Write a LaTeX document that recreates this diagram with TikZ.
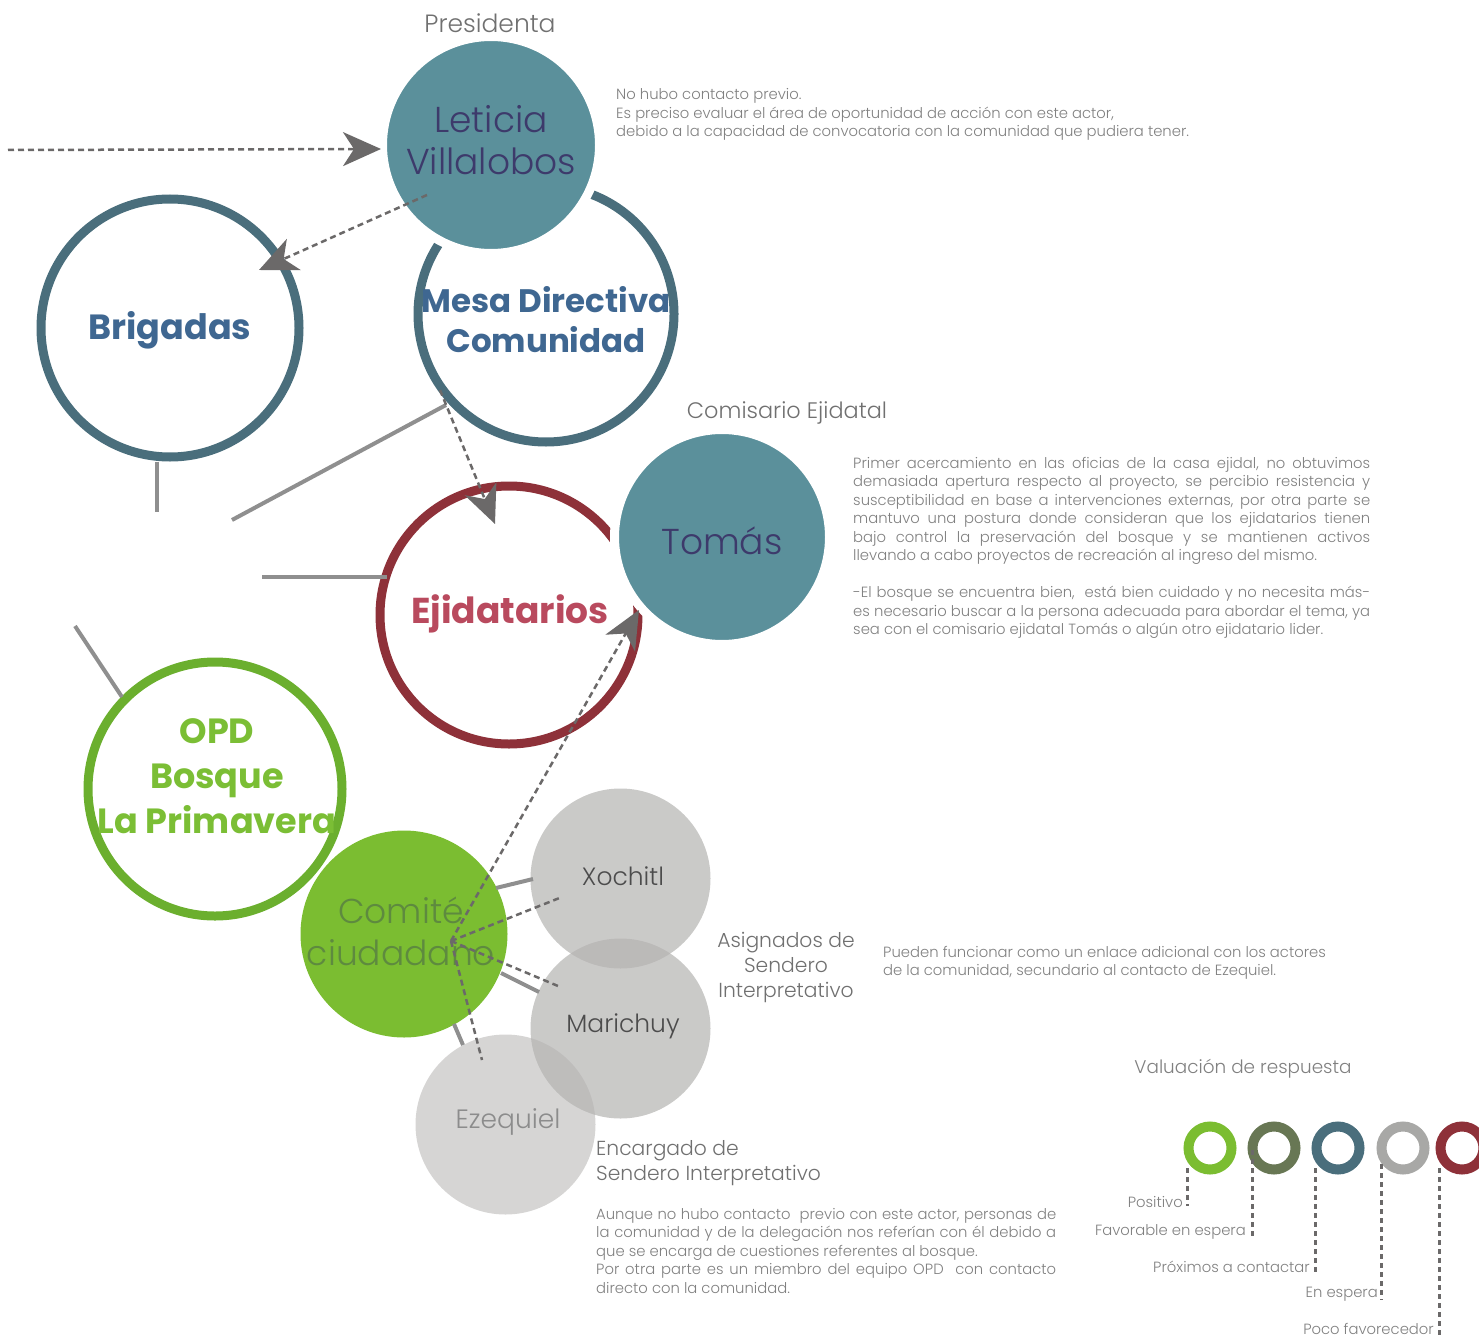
\documentclass[tikz,border=0pt]{standalone}
\usepackage{fontspec}
\setmainfont{Poppins Light}[BoldFont=Poppins Bold]
\usetikzlibrary{arrows.meta}
\definecolor{cTeal}{HTML}{5B909B}
\definecolor{cPurple}{HTML}{3D3A6B}
\definecolor{cRing}{HTML}{4A6E7C}
\definecolor{cBlueTxt}{HTML}{3F6791}
\definecolor{cRed}{HTML}{8E3139}
\definecolor{cRedTxt}{HTML}{B94A5E}
\definecolor{cGreenRing}{HTML}{6BAF2E}
\definecolor{cGreenTxt}{HTML}{7BBE35}
\definecolor{cGreen}{HTML}{7BBD31}
\definecolor{cComTxt}{HTML}{5E8A3F}
\definecolor{cOlive}{HTML}{687754}
\definecolor{cLGray}{HTML}{A8A8A6}
\definecolor{cLine}{HTML}{8F8F8F}
\definecolor{cDash}{HTML}{6B6969}
\definecolor{cTxt}{HTML}{808080}
\definecolor{cLab}{HTML}{707070}
\definecolor{cGrayFill}{HTML}{B4B3B1}
\tikzset{
  ring/.style={circle, draw=#1, line width=9pt, inner sep=0pt},
  disc/.style={circle, fill=#1, draw=white, line width=9pt, inner sep=0pt},
  gdisc/.style={circle, fill=cGrayFill, fill opacity=#1, inner sep=0pt, minimum size=180pt},
  stub/.style={draw=cLine, line width=4pt},
  darrow/.style={draw=cDash, line width=2.5pt, dash pattern=on 6pt off 4pt, -{Stealth[length=38pt,width=34pt,inset=11pt]}},
  dline/.style={draw=cDash, line width=2.5pt, dash pattern=on 6pt off 4pt},
  legring/.style={circle, draw=#1, line width=10pt, minimum size=43pt, inner sep=0pt},
  legline/.style={draw=cDash, line width=3pt, dash pattern=on 5pt off 4pt},
  bigtxt/.style={font=\fontsize{36}{42}\selectfont, align=center, inner sep=0pt},
  boldtxt/.style={font=\fontsize{33}{40}\selectfont\bfseries, align=center, inner sep=0pt},
  nametxt/.style={font=\fontsize{25}{28}\selectfont, inner sep=0pt},
  labtxt/.style={font=\fontsize{22.4}{25}\selectfont, text=cLab, inner sep=0pt},
  desc/.style={font=\fontsize{14.8}{18.5}\selectfont, text=cTxt, inner sep=0pt, anchor=base west},
  legtxt/.style={font=\fontsize{14.8}{18}\selectfont, text=cTxt, inner sep=0pt, anchor=east}
}
\begin{document}
\begin{tikzpicture}[x=1pt,y=-1pt]
\useasboundingbox (0,0) rectangle (1479,1340);
% rings
\node[ring=cRing, minimum size=258pt] (brig) at (170,328) {};
\node[ring=cRing, minimum size=256pt] (mesa) at (546,314) {};
\node[ring=cRed, minimum size=258pt] (ejid) at (509,615) {};
\node[ring=cGreenRing, minimum size=254pt] (opd) at (215,789) {};
% filled discs
\node[disc=cTeal, minimum size=217pt] (leti) at (491,145) {};
\node[disc=cTeal, minimum size=215pt] (tomas) at (722,537) {};
\node[circle, fill=cGreen, inner sep=0pt, minimum size=207pt] (comite) at (404,934) {};
\node[gdisc=0.7] (xoch) at (620.5,878.5) {};
\node[gdisc=0.7] (mari) at (620.5,1028.5) {};
\node[gdisc=0.55] (ezeq) at (505.5,1124.5) {};
% circle texts
\node[bigtxt, text=cPurple] (letiT) at (491,140) {Leticia\\Villalobos};
\node[bigtxt, text=cPurple] (tomasT) at (722,541) {Tomás};
\node[boldtxt, text=cBlueTxt, font=\fontsize{35}{40}\selectfont\bfseries] (brigT) at (170,330) {Brigadas};
\node[boldtxt, text=cBlueTxt, font=\fontsize{32.5}{40}\selectfont\bfseries] (mesaT) at (546,320) {Mesa Directiva\\Comunidad};
\node[boldtxt, text=cRedTxt, font=\fontsize{36}{40}\selectfont\bfseries] (ejidT) at (510,614) {Ejidatarios};
\node[boldtxt, text=cGreenTxt, font=\fontsize{35}{45}\selectfont\bfseries] (opdT) at (217,776) {OPD\\Bosque\\La Primavera};
\node[bigtxt, text=cComTxt, font=\fontsize{34.5}{42}\selectfont] (comiteT) at (401,931) {Comité\\ciudadano};
\node[nametxt, text=black!70] (xochT) at (623,876) {Xochitl};
\node[nametxt, text=black!70] (mariT) at (623,1026) {Marichuy};
\node[nametxt, text=black!45, font=\fontsize{26.5}{28}\selectfont] (ezeqT) at (508,1122) {Ezequiel};
% outside labels
\node[labtxt, font=\fontsize{25}{27}\selectfont] (presT) at (490,23) {Presidenta};
\node[labtxt] (comisT) at (787,413) {Comisario Ejidatal};
\node[labtxt, font=\fontsize{20.3}{25}\selectfont, align=center] (asigT) at (786,967) {Asignados de\\Sendero\\Interpretativo};
\node[labtxt, font=\fontsize{20.3}{25}\selectfont, align=left, anchor=base west] (encT) at (596,1180) {Encargado de\\Sendero Interpretativo};
% descriptions
\node[desc] (d1) at (616,100) {\begin{minipage}[t]{600pt}\raggedright
No hubo contacto previo.\\
Es preciso evaluar el área de oportunidad de acción con este actor,\\
debido a la capacidad de convocatoria con la comunidad que pudiera tener.\end{minipage}};
\node[desc] (d2) at (853,468) {\begin{minipage}[t]{517pt}\raggedright
\makebox[\linewidth][s]{Primer acercamiento en las oficias de la casa ejidal, no obtuvimos}\\
\makebox[\linewidth][s]{demasiada apertura respecto al proyecto, se percibio resistencia y}\\
\makebox[\linewidth][s]{susceptibilidad en base a intervenciones externas, por otra parte se}\\
\makebox[\linewidth][s]{mantuvo una postura donde consideran que los ejidatarios tienen}\\
\makebox[\linewidth][s]{bajo control la preservación del bosque y se mantienen activos}\\
llevando a cabo proyectos de recreación al ingreso del mismo.\\[18.5pt]
\makebox[\linewidth][s]{-El bosque se encuentra bien,\ \ está bien cuidado y no necesita más-}\\
\makebox[\linewidth][s]{es necesario buscar a la persona adecuada para abordar el tema, ya}\\
sea con el comisario ejidatal Tomás o algún otro ejidatario lider.\end{minipage}};
\node[desc] (d3) at (883,957) {\begin{minipage}[t]{500pt}\raggedright
Pueden funcionar como un enlace adicional con los actores\\
de la comunidad, secundario al contacto de Ezequiel.\end{minipage}};
\node[desc] (d4) at (596,1219) {\begin{minipage}[t]{460pt}\raggedright
\makebox[\linewidth][s]{Aunque no hubo contacto\ \ previo con este actor, personas de}\\
\makebox[\linewidth][s]{la comunidad y de la delegación nos referían con él debido a}\\
que se encarga de cuestiones referentes al bosque.\\
\makebox[\linewidth][s]{Por otra parte es un miembro del equipo OPD\ \ con contacto}\\
directo con la comunidad.\end{minipage}};
% solid stubs
\coordinate (s1a) at (157,462); \coordinate (s1b) at (157,512);
\coordinate (s2a) at (232,520); \coordinate (s2b) at (446,405);
\coordinate (s3a) at (262,577); \coordinate (s3b) at (387,577);
\coordinate (s4a) at (75,626);  \coordinate (s4b) at (122,697);
\coordinate (c1a) at (496,888); \coordinate (c1b) at (533,879);
\coordinate (c2a) at (501,973); \coordinate (c2b) at (539,992);
\coordinate (c3a) at (454,1024); \coordinate (c3b) at (463,1045);
\draw[stub] (s1a) -- (s1b);
\draw[stub] (s2a) -- (s2b);
\draw[stub] (s3a) -- (s3b);
\draw[stub] (s4a) -- (s4b);
\draw[stub] (c1a) -- (c1b);
\draw[stub] (c2a) -- (c2b);
\draw[stub] (c3a) -- (c3b);
% dashed connectors
\coordinate (a0) at (8,150); \coordinate (a0t) at (381,149);
\coordinate (a1) at (427,195); \coordinate (a1t) at (259,270);
\coordinate (a2) at (440,390); \coordinate (a2t) at (495,524);
\coordinate (hub) at (451,941); \coordinate (a3t) at (639,610);
\coordinate (hx) at (562,897); \coordinate (hm) at (558,986); \coordinate (he) at (482,1060);
\draw[darrow] (a0) -- (a0t);
\draw[darrow] (a1) -- (a1t);
\draw[darrow] (a2) -- (a2t);
\draw[darrow] (hub) -- (a3t);
\draw[dline] (hub) -- (hx);
\draw[dline] (hub) -- (hm);
\draw[dline] (hub) -- (he);
% legend
\node[font=\fontsize{18.4}{24}\selectfont, text=cTxt, inner sep=0pt] (legT) at (1243,1069) {Valuación de respuesta};
\node[legring=cGreen] (l1) at (1210,1148) {};
\node[legring=cOlive] (l2) at (1274,1148) {};
\node[legring=cRing] (l3) at (1338,1148) {};
\node[legring=cLGray] (l4) at (1403,1148) {};
\node[legring=cRed] (l5) at (1462,1148) {};
\coordinate (p1a) at (1187,1168); \coordinate (p1b) at (1187,1206);
\coordinate (p2a) at (1252,1150); \coordinate (p2b) at (1252,1236);
\coordinate (p3a) at (1315,1168); \coordinate (p3b) at (1315,1272);
\coordinate (p4a) at (1381,1164); \coordinate (p4b) at (1381,1300);
\coordinate (p5a) at (1439,1168); \coordinate (p5b) at (1439,1336);
\draw[legline] (p1a) -- (p1b);
\draw[legline] (p2a) -- (p2b);
\draw[legline] (p3a) -- (p3b);
\draw[legline] (p4a) -- (p4b);
\draw[legline] (p5a) -- (p5b);
\node[legtxt] (lt1) at (1183,1202) {Positivo};
\node[legtxt] (lt2) at (1246,1232) {Favorable en espera};
\node[legtxt] (lt3) at (1310,1267) {Próximos a contactar};
\node[legtxt] (lt4) at (1378,1294) {En espera};
\node[legtxt] (lt5) at (1434,1329) {Poco favorecedor};
\end{tikzpicture}
\end{document}
